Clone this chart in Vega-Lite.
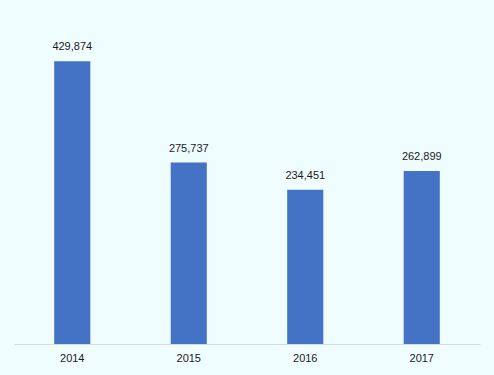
{
  "$schema": "https://vega.github.io/schema/vega-lite/v6.json",
  "width": 466,
  "height": 329,
  "autosize": {"type": "none"},
  "padding": {"left": 14, "top": 15, "right": 14, "bottom": 31},
  "background": "#f0fdff",
  "config": {"view": {"stroke": null}, "font": "Liberation Sans"},
  "data": {"values": [
    {"year": "2014", "value": 429874},
    {"year": "2015", "value": 275737},
    {"year": "2016", "value": 234451},
    {"year": "2017", "value": 262899}
  ]},
  "encoding": {
    "x": {"field": "year", "type": "nominal", "scale": {"paddingInner": 0.69, "paddingOuter": 0.345},
      "axis": {"title": null, "labelAngle": 0, "ticks": false, "domainColor": "#d9d9d9", "labelFontSize": 11, "labelColor": "#1a1a1a", "labelPadding": 8}},
    "y": {"field": "value", "type": "quantitative", "scale": {"domain": [0, 500000]}, "axis": null}
  },
  "layer": [
    {"mark": {"type": "bar", "color": "#4472c4"}},
    {"mark": {"type": "text", "baseline": "bottom", "dy": -9, "fontSize": 11, "color": "#1a1a1a"},
     "encoding": {"text": {"field": "value", "type": "quantitative", "format": ","}}}
  ]
}
